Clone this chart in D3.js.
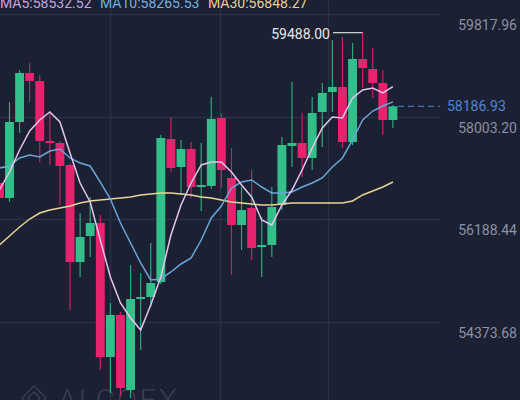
<!DOCTYPE html>
<html><head><meta charset="utf-8">
<script src="https://cdn.jsdelivr.net/npm/d3@7"></script>
<style>
html,body{margin:0;padding:0;background:#1b2033;}
svg{display:block;}
</style></head>
<body>
<svg id="chart" width="520" height="400"></svg>
<script>
const categories = d3.range(-1, 39).map(i => "k" + i);
const opens  = [56831,56566,57909,58775,58634,57573,57538,57149,55434,55894,56124,53755,54498,53172,54780,54816,55081,57608,57114,57432,56760,56778,57980,56919,56088,56389,55699,55735,56442,57485,57538,57273,58086,58439,58528,57555,59023,58846,58598,57944];
const highs  = [56884,58262,58828,58952,58740,58086,57573,57184,56300,56583,56265,54710,54551,55381,55240,55770,57679,57997,57591,57555,57538,58351,58068,57449,56760,57061,56230,56760,57644,58616,58068,58351,58598,59358,59411,59305,59488,59217,58828,58209];
const lows   = [56530,56495,57715,58262,57202,57149,56442,54586,55169,55523,53525,53119,53065,53030,53879,54639,55045,57025,56619,56566,56336,56725,56742,55205,55646,55470,55169,55523,56353,57114,56937,57061,57467,58086,57449,57502,58510,58333,57679,57803];
const closes = [56566,57909,58775,58634,57573,57538,57131,55434,55876,56124,53755,54498,53207,54780,54816,55063,57626,57096,57432,56760,56795,57962,57061,56088,56353,55682,55735,56406,57502,57538,57273,58068,58422,58528,57555,59023,58863,58598,57944,58186.93];
const ma5  = [56707,57025,57414,57750,57944,58086,57909,57361,56831,56495,55823,55169,54710,54444,54232,54674,55169,55912,56442,56831,57149,57202,57202,57025,56795,56583,56177,56088,56442,56707,57061,57449,57803,57997,57980,58333,58475,58510,58422,58532.52];
const ma10 = [57096,57131,57273,57326,57290,57396,57432,57273,57184,57131,56848,56548,56124,55770,55417,55116,55134,55258,55399,55505,55823,56212,56424,56742,56848,56884,56760,56654,56654,56672,56760,56831,56919,57114,57273,57591,57944,58103,58192,58265.53];
const ma30 = [55735,55894,56053,56194,56300,56353,56389,56424,56477,56513,56530,56548,56566,56583,56619,56636,56654,56654,56636,56619,56583,56566,56530,56495,56477,56460,56442,56442,56460,56477,56477,56477,56477,56477,56477,56513,56619,56689,56760,56848.27];
const tickValues = [59817.96, 58003.20, 56188.44, 54373.68];
const legend = [["MA5:58532.52", "#c9a4dc"], ["MA10:58265.53", "#78b0dc"], ["MA30:56848.27", "#ecd08e"]];
const lastPrice = 58186.93;
const highLabel = "59488.00";
const watermark = "ALCOEX";

const W = 520, H = 400, plotRight = 440;
const svg = d3.select("#chart");
svg.append("rect").attr("width", W).attr("height", H).attr("fill", "#1b2033");

const x = d3.scaleBand().domain(categories).range([-5.65, 397.95]).paddingInner(0.12).paddingOuter(0.06);
const y = d3.scaleLinear().domain([54373.68, 59817.96]).range([322, 14]);
const cx = d => x(d) + x.bandwidth() / 2;

// grid
const grid = svg.append("g");
grid.selectAll("line.h").data(tickValues).join("line")
  .attr("x1", 0).attr("x2", plotRight)
  .attr("y1", d => Math.round(y(d)) + 0.5).attr("y2", d => Math.round(y(d)) + 0.5)
  .attr("stroke", "#293045").attr("stroke-width", 1.5);
grid.selectAll("line.v").data([110, 220, 328]).join("line")
  .attr("x1", d => d + 0.5).attr("x2", d => d + 0.5).attr("y1", 0).attr("y2", H)
  .attr("stroke", "#293045").attr("stroke-width", 1.5);

// watermark
const wm = svg.append("g").attr("fill", "none").attr("stroke", "#363d50").attr("stroke-width", 1.5);
wm.append("path").attr("d", "M22,398 L34,386 L46,398 L34,410 Z");
wm.append("path").attr("d", "M28,398 L34,392 L40,398 L34,404 Z");
svg.append("text").attr("x", 58).attr("y", 410).attr("font-family", "Roboto, sans-serif")
  .attr("font-size", 30).attr("font-weight", 300).attr("letter-spacing", 2).attr("fill", "#363d50").text(watermark);

// candles
const data = categories.map((c, i) => ({c, o: opens[i], h: highs[i], l: lows[i], cl: closes[i]}));
const up = "#33bf89", down = "#e8236e";
const cg = svg.append("g");
cg.selectAll("line.wick").data(data).join("line")
  .attr("x1", d => cx(d.c)).attr("x2", d => cx(d.c))
  .attr("y1", d => y(d.h)).attr("y2", d => y(d.l))
  .attr("stroke", d => d.cl >= d.o ? up : down).attr("stroke-width", 1.2).attr("opacity", 0.85);
cg.selectAll("rect.body").data(data).join("rect")
  .attr("x", d => x(d.c)).attr("width", x.bandwidth())
  .attr("y", d => y(Math.max(d.o, d.cl)))
  .attr("height", d => Math.max(1.6, Math.abs(y(d.o) - y(d.cl))))
  .attr("fill", d => d.cl >= d.o ? up : down);

// MA lines
const line = arr => d3.line().x((d, i) => cx(categories[i])).y(d => y(d))(arr);
svg.append("path").attr("d", line(ma30)).attr("fill", "none").attr("stroke", "#ead395").attr("stroke-width", 1.5);
svg.append("path").attr("d", line(ma10)).attr("fill", "none").attr("stroke", "#6aa6da").attr("stroke-width", 1.5);
svg.append("path").attr("d", line(ma5)).attr("fill", "none").attr("stroke", "#e6c6ee").attr("stroke-width", 1.5);

// axis labels
svg.selectAll("text.tick").data(tickValues).join("text")
  .attr("x", 517).attr("y", d => y(d) + 16).attr("text-anchor", "end")
  .attr("font-family", "Roboto, sans-serif").attr("font-size", 14).attr("fill", "#8a92a6")
  .text(d => d.toFixed(2));

// last price dashed line
svg.append("line").attr("x1", 398).attr("x2", 440).attr("y1", y(lastPrice)).attr("y2", y(lastPrice))
  .attr("stroke", "#4f86d6").attr("stroke-width", 1.2).attr("stroke-dasharray", "6,4");
svg.append("text").attr("x", 447).attr("y", y(lastPrice) + 5).attr("font-family", "Roboto, sans-serif")
  .attr("font-size", 14).attr("fill", "#4f86d6").text(lastPrice.toFixed(2));

// high marker
const hiIdx = highs.indexOf(d3.max(highs));
svg.append("line").attr("x1", 333).attr("x2", cx(categories[hiIdx])).attr("y1", y(highs[hiIdx])).attr("y2", y(highs[hiIdx]))
  .attr("stroke", "#d8d8de").attr("stroke-width", 1.2);
svg.append("text").attr("x", 330).attr("y", y(highs[hiIdx]) + 6).attr("text-anchor", "end")
  .attr("font-family", "Roboto, sans-serif").attr("font-size", 14).attr("fill", "#e8e8ee").text(highLabel);

// legend
const lg = svg.append("g");
const lx = [0, 100, 208];
legend.forEach((d, i) => {
  lg.append("text").attr("x", lx[i]).attr("y", 8).attr("font-family", "Roboto, sans-serif")
    .attr("font-size", 14).attr("fill", d[1]).text(d[0]);
});
</script>
</body></html>
